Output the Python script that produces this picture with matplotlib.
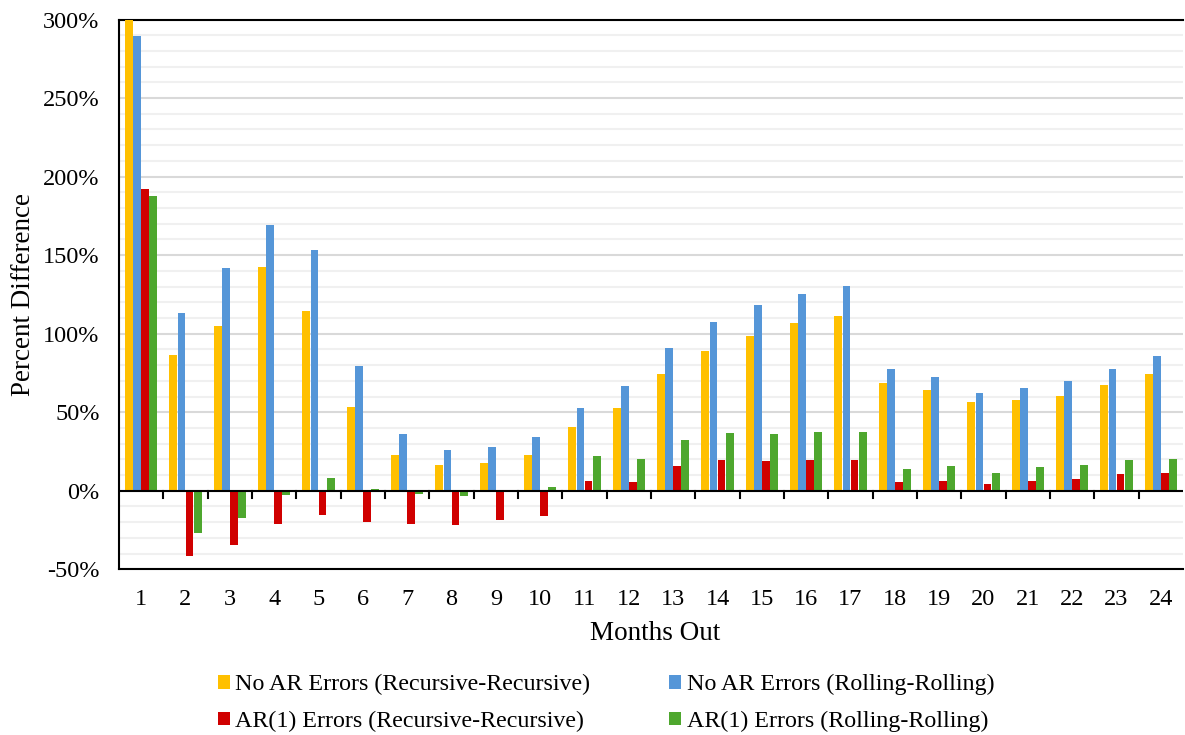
import matplotlib.pyplot as plt
import numpy as np
from matplotlib.ticker import MultipleLocator, FuncFormatter

plt.rcParams['font.family'] = ['Liberation Serif', 'DejaVu Serif']

months = list(range(1, 25))

no_ar_rec = [300, 86.2, 105.1, 142.5, 114.5, 53.3, 22.9, 16.4, 17.8, 22.9, 40.6, 52.9,
             74.3, 89.2, 98.7, 106.6, 111.5, 68.4, 64.1, 56.3, 58.0, 60.5, 67.5, 74.3]
no_ar_roll = [289.4, 113.4, 142.0, 169.4, 153.0, 79.6, 36.1, 25.7, 28.0, 34.2, 52.7, 66.9,
              90.7, 107.3, 118.1, 125.1, 130.4, 77.3, 72.6, 62.0, 65.4, 69.9, 77.5, 85.8]
ar1_rec = [192.2, -41.6, -34.6, -21.2, -15.7, -20.2, -21.4, -21.6, -18.5, -16.3, 6.2, 5.5,
           15.7, 19.4, 18.9, 19.6, 19.6, 5.3, 6.4, 4.3, 6.2, 7.3, 10.8, 11.5]
ar1_roll = [187.5, -27.2, -17.4, -2.9, 8.3, 1.1, -2.1, -3.2, -0.5, 2.5, 21.9, 20.4,
            32.1, 36.8, 36.1, 37.2, 37.4, 14.0, 15.7, 11.1, 14.9, 16.4, 19.8, 20.2]

labels = ['No AR Errors (Recursive-Recursive)', 'No AR Errors (Rolling-Rolling)',
          'AR(1) Errors (Recursive-Recursive)', 'AR(1) Errors (Rolling-Rolling)']
colors = ['#FFC000', '#5596D8', '#D00000', '#4EA72E']

fig = plt.figure(figsize=(11.85, 7.35), dpi=100)
ax = fig.add_axes([119/1185, 1 - 569.3/735, (1183 - 119)/1185, (569.3 - 19.5)/735])

x = np.arange(len(months))
w = 0.183
series = [no_ar_rec, no_ar_roll, ar1_rec, ar1_roll]
bars = []
for i, (s, c) in enumerate(zip(series, colors)):
    b = ax.bar(x + (i - 1.5) * w, s, w * 0.97, color=c, label=labels[i], zorder=3)
    bars.append(b)

ax.set_xlim(-0.5, len(months) - 0.5)
ax.set_ylim(-50, 300)
ax.yaxis.set_major_locator(MultipleLocator(50))
ax.yaxis.set_minor_locator(MultipleLocator(10))
ax.yaxis.set_major_formatter(FuncFormatter(lambda v, p: '%d%%' % v))
ax.grid(axis='y', which='minor', color='#f0f0f0', lw=1.5, zorder=0)
ax.grid(axis='y', which='major', color='#d9d9d9', lw=1.5, zorder=1)
ax.tick_params(axis='y', which='both', length=0, labelsize=17.5, pad=14)

# month labels without ticks; ticks drawn on the zero line at category boundaries
ax.set_xticks(x)
ax.set_xticklabels([str(m) for m in months], fontsize=17.5)
ax.tick_params(axis='x', length=0, pad=14)
ax.axhline(0, color='black', lw=1.5, zorder=4)
for bnd in np.arange(0.5, len(months) - 0.5, 1):
    ax.plot([bnd, bnd], [0, -4.9], color='black', lw=1.5, zorder=4, clip_on=False)

for sp in ['left', 'bottom', 'top']:
    ax.spines[sp].set_linewidth(1.5)
    ax.spines[sp].set_color('black')
ax.spines['right'].set_visible(False)

ax.set_ylabel('Percent Difference', fontsize=19.5)
ax.set_xlabel('Months Out', fontsize=19.5)
ax.yaxis.set_label_coords(-0.078, 0.5)
ax.xaxis.set_label_coords(0.5035, -0.094)

order = [0, 2, 1, 3]
fig.legend([bars[i] for i in order], [labels[i] for i in order], ncol=2,
           loc='center', bbox_to_anchor=(606/1185, 1 - 703/735), frameon=False,
           fontsize=17.3, handlelength=0.5, handleheight=0.5, handletextpad=0.22,
           columnspacing=3.3, labelspacing=0.65)

fig.savefig('out.png', dpi=100)
